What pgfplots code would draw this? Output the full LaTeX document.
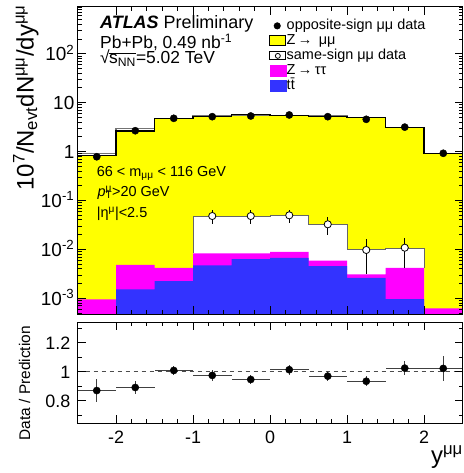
\documentclass[border=0pt]{standalone}
\usepackage{fontspec}
\setmainfont{Liberation Sans}
\usepackage{pgfplots}
\pgfplotsset{compat=1.18}

\definecolor{zmumu}{RGB}{255,255,0}
\definecolor{ztautau}{RGB}{255,0,255}
\definecolor{ttbar}{RGB}{51,51,255}

\newcommand{\fs}[1]{\fontsize{#1}{#1}\selectfont}

\begin{document}
\begin{tikzpicture}[x=1bp,y=1bp]
\path[use as bounding box] (0,0) rectangle (464,473);

% ---- upper panel: stacked prediction and data
\begin{axis}[
  at={(77.5bp,158.7bp)}, anchor=south west,
  scale only axis, width=385bp, height=307.3bp,
  ymode=log, log origin=infty,
  xmin=-2.5, xmax=2.5, ymin=4.7e-4, ymax=900,
  axis on top,
  xtick={-2,-1,0,1,2}, xticklabels={}, minor x tick num=4,
  ytick={1e-3,1e-2,1e-1,1,10,100},
  yticklabels={10\textsuperscript{-3},10\textsuperscript{-2},10\textsuperscript{-1},1,10,10\textsuperscript{2}},
  minor ytick={5e-4,6e-4,7e-4,8e-4,9e-4,
    2e-3,3e-3,4e-3,5e-3,6e-3,7e-3,8e-3,9e-3,
    0.02,0.03,0.04,0.05,0.06,0.07,0.08,0.09,
    0.2,0.3,0.4,0.5,0.6,0.7,0.8,0.9,
    2,3,4,5,6,7,8,9,20,30,40,50,60,70,80,90,
    200,300,400,500,600,700,800,900},
  tick align=inside, xtick pos=both, ytick pos=both,
  major tick length=8bp, minor tick length=4bp,
  tick style={black, line width=0.8bp},
  axis line style={line width=1bp},
  yticklabel style={font=\fs{19}, anchor=base east, inner sep=0pt, xshift=-3bp, yshift=-6.8bp},
  legend style={at={(axis description cs:0.498,0.9636)}, anchor=north west,
    draw=none, fill=none, inner sep=0pt, row sep=0pt, font=\fs{14.5},
    nodes={inner sep=0.5bp, text height=10.5bp, text depth=3.5bp}},
  legend cell align=left,
]
% Z -> mumu (top of stack)
\addplot[forget plot, ybar interval, fill=zmumu, draw=none] coordinates {
  (-2.5,0.82) (-2,2.62) (-1.5,4.73) (-1,5.3) (-0.5,5.6) (0,5.5)
  (0.5,5.3) (1,4.87) (1.5,3.07) (2,0.90) (2.5,0.90)};
% same-sign data used as background
\addplot[forget plot, ybar interval, fill=white, draw=none] coordinates {
  (-1,0.048) (-0.5,0.048) (0,0.049) (0.5,0.0325) (1,0.0097) (1.5,0.0105) (2,0.0105)};
% Z -> tautau
\addplot[forget plot, ybar interval, fill=ztautau, draw=none] coordinates {
  (-2.5,9.5e-4) (-2,4.8e-3) (-1.5,4.2e-3) (-1,8.3e-3) (-0.5,8.3e-3) (0,8.9e-3)
  (0.5,5.85e-3) (1,3.08e-3) (1.5,4.2e-3) (2,6.2e-4) (2.5,6.2e-4)};
% ttbar
\addplot[forget plot, ybar interval, fill=ttbar, draw=none] coordinates {
  (-2,1.52e-3) (-1.5,2.25e-3) (-1,4.7e-3) (-0.5,6.3e-3) (0,6.7e-3)
  (0.5,4.55e-3) (1,2.6e-3) (1.5,9.6e-4) (2,9.6e-4)};

% outlines
\addplot[forget plot, const plot, black!55, line width=1.2bp] coordinates {
  (-2.5,0.92) (-2,2.98) (-1.5,4.73) (-1,5.3) (-0.5,5.6) (0,5.5)
  (0.5,5.3) (1,4.87) (1.5,3.07) (2,0.90) (2.5,0.90)};
\addplot[forget plot, const plot, black, line width=1.1bp] coordinates {
  (-2.5,0.82) (-2,2.62) (-1.5,4.73) (-1,5.3) (-0.5,5.6) (0,5.5)
  (0.5,5.3) (1,4.87) (1.5,3.07) (2,0.90) (2.5,0.90)};
\addplot[forget plot, const plot, black!60, line width=1bp] coordinates {
  (-1,8.3e-3) (-1,0.048) (-0.5,0.048) (0,0.049) (0.5,0.0325) (1,0.0097)
  (1.5,0.0105) (2,0.0105) (2,4.2e-3)};

% same-sign data
\addplot[forget plot, only marks, mark=*, mark size=3.6bp,
  mark options={fill=white, draw=black, line width=0.8bp},
  error bars/.cd, y dir=both, y explicit, error mark=none,
  error bar style={black, line width=1bp}] coordinates {
  (-0.75,0.048) +- (0,0.015)
  (-0.25,0.048) +- (0,0.015)
  (0.25,0.0496) +- (0,0.015)
  (0.75,0.0325) +- (0,0.013)
  (1.25,0.0097) +- (0,0.0066)
  (1.75,0.0108) +- (0,0.0066)};
% opposite-sign data
\addplot[forget plot, only marks, mark=*, mark size=3.6bp, black] coordinates {
  (-2.25,0.78) (-1.75,2.66) (-1.25,4.77) (-0.75,5.15) (-0.25,5.32)
  (0.25,5.58) (0.75,5.15) (1.25,4.55) (1.75,3.15) (2.25,0.92)};

% legend
\addlegendimage{legend image code/.code={\fill[black] (7.4bp,0bp) circle (3.3bp);}}
\addlegendentry{opposite-sign μμ data}
\addlegendimage{legend image code/.code={\fill[zmumu, draw=black, line width=0.8bp] (0bp,-5bp) rectangle (16bp,5bp);}}
\addlegendentry{Z\,→\, μμ}
\addlegendimage{legend image code/.code={\draw[black, line width=0.8bp, fill=white] (0bp,-4bp) rectangle (16bp,4bp);
  \draw[black, line width=0.8bp] (8bp,0bp) circle (2.5bp);}}
\addlegendentry{same-sign μμ data}
\addlegendimage{legend image code/.code={\fill[ztautau] (0bp,-5.3bp) rectangle (16bp,5.3bp);}}
\addlegendentry{Z\,→\,ττ}
\addlegendimage{legend image code/.code={\fill[ttbar] (0bp,-5.3bp) rectangle (16bp,5.3bp);}}
\addlegendentry{t\={t}}
\end{axis}

% ---- lower panel: ratio
\begin{axis}[
  at={(77.5bp,49.7bp)}, anchor=south west,
  scale only axis, width=385bp, height=101bp,
  xmin=-2.5, xmax=2.5, ymin=0.646, ymax=1.34,
  axis on top,
  xtick={-2,-1,0,1,2}, xticklabels={-2,-1,0,1,2}, minor x tick num=4,
  ytick={0.8,1,1.2}, yticklabels={0.8,1,1.2}, minor ytick={0.7,0.9,1.1,1.3},
  tick align=inside, xtick pos=both, ytick pos=both,
  major tick length=8bp, minor tick length=4bp,
  tick style={black, line width=0.8bp},
  axis line style={line width=1bp},
  xticklabel style={font=\fs{18}, anchor=base, inner sep=0pt, yshift=-20bp},
  yticklabel style={font=\fs{18}, anchor=base east, inner sep=0pt, xshift=-7bp, yshift=-6.5bp},
]
\addplot[black!70, line width=1.2bp, dash pattern=on 4.7bp off 3.3bp] coordinates {(-2.5,1) (2.5,1)};
\addplot[only marks, mark=*, mark size=3.6bp, black,
  error bars/.cd, x dir=both, x explicit, y dir=both, y explicit, error mark=none,
  error bar style={black!75, line width=1.2bp}] coordinates {
  (-2.25,0.871) +- (0.25,0.079)
  (-1.75,0.892) +- (0.25,0.044)
  (-1.25,1.009) +- (0.25,0.032)
  (-0.75,0.975) +- (0.25,0.035)
  (-0.25,0.947) +- (0.25,0.030)
  (0.25,1.014) +- (0.25,0.036)
  (0.75,0.970) +- (0.25,0.034)
  (1.25,0.935) +- (0.25,0.035)
  (1.75,1.025) +- (0.25,0.050)
  (2.25,1.023) +- (0.25,0.086)};
\end{axis}

% ---- texts
\node[anchor=base west, inner sep=0pt, font=\fs{18}] at (100,444.7) {\textbf{\textit{ATLAS}} Preliminary};
\node[anchor=base west, inner sep=0pt, font=\fs{17.5}] at (100,424.7) {Pb+Pb, 0.49 nb\textsuperscript{-1}};
\node[anchor=base west, inner sep=0pt, font=\fs{17.5}] at (100,409)
  {√\kern-0.6bp$\overline{\mbox{s\textsubscript{NN}}}$=5.02 TeV};
\node[anchor=base west, inner sep=0pt, font=\fs{14.5}] at (96.7,296.3) {66 < m\textsubscript{μμ} < 116 GeV};
\node[anchor=base west, inner sep=0pt, font=\fs{14.5}] at (97.3,276.3) {\textit{p}\rlap{\textsuperscript{μ}}\textsubscript{T}>20 GeV};
\node[anchor=base west, inner sep=0pt, font=\fs{14.5}] at (96.7,255.7) {|η\textsuperscript{μ}|<2.5};

\node[rotate=90, anchor=base east, inner sep=0pt, font=\fs{24}] at (33.5,468)
  {10\textsuperscript{7}/N\textsubscript{evt}dN\textsuperscript{μμ}/dy\textsuperscript{μμ}};
\node[rotate=90, anchor=base, inner sep=0pt, font=\fs{15.5}] at (30,89.7) {Data / Prediction};
\node[anchor=base east, inner sep=0pt, font=\fs{24}] at (463,9.5) {y\textsuperscript{μμ}};
\end{tikzpicture}
\end{document}
